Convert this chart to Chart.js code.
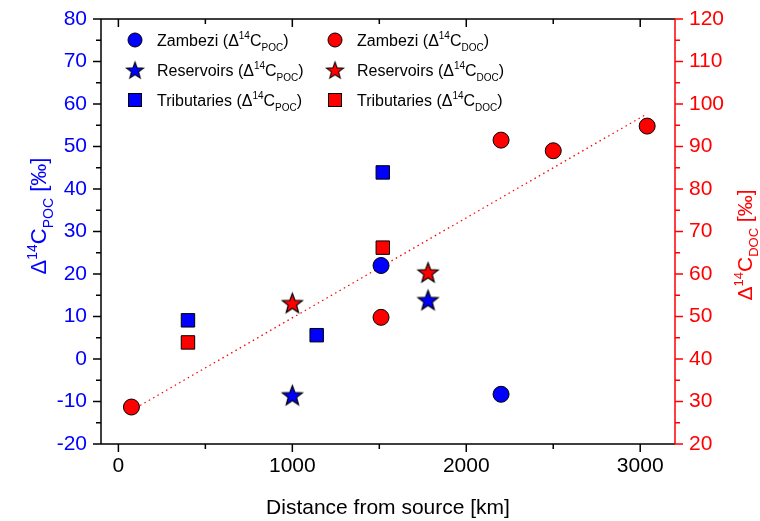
<!DOCTYPE html>
<html>
<head>
<meta charset="utf-8">
<script src="https://cdn.jsdelivr.net/npm/chart.js@4/dist/chart.umd.min.js"></script>
<style>
  html, body { margin: 0; padding: 0; background: #fff; }
  #wrap { width: 760px; height: 521px; }
</style>
</head>
<body>
<div id="wrap"><canvas id="myChart"></canvas></div>
<script>
// distances from source [km] and Δ14C values [‰]
const zambeziPocDist = [1510, 2200];
const zambeziPoc = [22.0, -8.3];
const reservoirsPocDist = [1000, 1780];
const reservoirsPoc = [-8.5, 13.9];
const tributariesPocDist = [400, 1140, 1520];
const tributariesPoc = [9.1, 5.6, 43.9];

const zambeziDocDist = [75, 1510, 2200, 2500, 3040];
const zambeziDoc = [28.7, 49.8, 91.5, 89.0, 94.8];
const reservoirsDocDist = [1000, 1780];
const reservoirsDoc = [53.2, 60.4];
const tributariesDocDist = [400, 1520];
const tributariesDoc = [43.9, 66.2];

// linear fit through the DOC values (end points)
const trendDist = [75, 3040];
const trendDoc = [27.9, 97.7];

const xTicks = [0, 1000, 2000, 3000];

const BLUE = '#0000ff';
const RED = '#ff0000';
const FONT = "'Liberation Sans', Arial, sans-serif";

const pts = (xs, ys) => xs.map((x, i) => ({ x: x, y: ys[i] }));

function starCanvas(fill, R) {
    const c = document.createElement('canvas');
    const s = Math.ceil(R * 2 + 4);
    c.width = c.height = s;
    const g = c.getContext('2d');
    const r = R * 0.42;
    g.beginPath();
    for (let i = 0; i < 10; i++) {
        const a = -Math.PI / 2 + i * Math.PI / 5;
        const rr = i % 2 ? r : R;
        g.lineTo(s / 2 + rr * Math.cos(a), s / 2 + 1 + rr * Math.sin(a));
    }
    g.closePath();
    g.fillStyle = fill;
    g.fill();
    g.strokeStyle = '#000';
    g.lineWidth = 1.2;
    g.stroke();
    return c;
}

const blueStar = starCanvas(BLUE, 10.5);
const redStar = starCanvas(RED, 10.5);

// text with super/subscripts, y = baseline
function richText(ctx, parts, x, y, size, color, align) {
    const fontFor = k => (k ? Math.round(size * 0.62) : size) + 'px ' + FONT;
    let w = 0;
    parts.forEach(([t, k]) => { ctx.font = fontFor(k); w += ctx.measureText(t).width; });
    let cx = align === 'center' ? x - w / 2 : x;
    ctx.fillStyle = color;
    ctx.textAlign = 'left';
    ctx.textBaseline = 'alphabetic';
    parts.forEach(([t, k]) => {
        ctx.font = fontFor(k);
        const dy = k === 'sup' ? -size * 0.42 : k === 'sub' ? size * 0.3 : 0;
        ctx.fillText(t, cx, y + dy);
        cx += ctx.measureText(t).width;
    });
}

const label = (name, kind) => [[name + ' (\u0394', ''], ['14', 'sup'], ['C', ''], [kind, 'sub'], [')', '']];

const frame = {
    id: 'frame',
    afterDraw(chart) {
        const ctx = chart.ctx;
        const a = chart.chartArea;
        const x = chart.scales.x, yl = chart.scales.yPoc, yr = chart.scales.yDoc;
        ctx.save();
        ctx.lineWidth = 1.5;
        ctx.strokeStyle = '#000';
        ctx.beginPath();
        ctx.moveTo(a.right, a.top); ctx.lineTo(a.left, a.top);
        ctx.lineTo(a.left, a.bottom); ctx.lineTo(a.right, a.bottom);
        for (let v = 0; v <= 3000; v += 500) {
            const px = x.getPixelForValue(v);
            const len = v % 1000 ? 5 : 8;
            ctx.moveTo(px, a.bottom); ctx.lineTo(px, a.bottom + len);
            ctx.moveTo(px, a.top); ctx.lineTo(px, a.top + len);
        }
        for (let v = -20; v <= 80; v += 5) {
            const py = yl.getPixelForValue(v);
            const len = v % 10 ? 5 : 8;
            ctx.moveTo(a.left, py); ctx.lineTo(a.left - len, py);
        }
        ctx.stroke();

        ctx.strokeStyle = RED;
        ctx.beginPath();
        ctx.moveTo(a.right, a.top); ctx.lineTo(a.right, a.bottom);
        for (let v = 20; v <= 120; v += 5) {
            const py = yr.getPixelForValue(v);
            const len = v % 10 ? 5 : 8;
            ctx.moveTo(a.right, py); ctx.lineTo(a.right + len, py);
        }
        ctx.stroke();

        // axis titles
        ctx.fillStyle = '#000';
        ctx.font = '21px ' + FONT;
        ctx.textAlign = 'center';
        ctx.textBaseline = 'alphabetic';
        ctx.fillText('Distance from source [km]', (a.left + a.right) / 2, 514);

        ctx.save();
        ctx.translate(46, 216);
        ctx.rotate(-Math.PI / 2);
        richText(ctx, [['\u0394', ''], ['14', 'sup'], ['C', ''], ['POC', 'sub'], [' [\u2030]', '']], 0, 0, 22, BLUE, 'center');
        ctx.restore();

        ctx.save();
        ctx.translate(752, 245);
        ctx.rotate(-Math.PI / 2);
        richText(ctx, [['\u0394', ''], ['14', 'sup'], ['C', ''], ['DOC', 'sub'], [' [\u2030]', '']], 0, 0, 21, RED, 'center');
        ctx.restore();

        // legend
        const rows = [40, 70, 100];
        const cols = [{ mx: 135, tx: 157, fill: BLUE, kind: 'POC' }, { mx: 335, tx: 357, fill: RED, kind: 'DOC' }];
        const names = ['Zambezi', 'Reservoirs', 'Tributaries'];
        cols.forEach(c => {
            rows.forEach((ry, i) => {
                ctx.lineWidth = 1;
                ctx.strokeStyle = '#000';
                ctx.fillStyle = c.fill;
                if (i === 0) {
                    ctx.beginPath(); ctx.arc(c.mx, ry, 7, 0, Math.PI * 2); ctx.fill(); ctx.stroke();
                } else if (i === 1) {
                    const img = c.fill === BLUE ? blueStar : redStar;
                    const s = img.width * 0.85;
                    ctx.drawImage(img, c.mx - s / 2, ry - s / 2, s, s);
                } else {
                    ctx.fillRect(c.mx - 6.5, ry - 6.5, 13, 13);
                    ctx.strokeRect(c.mx - 6.5, ry - 6.5, 13, 13);
                }
                richText(ctx, label(names[i], c.kind), c.tx, ry + 6, 16, '#000', 'left');
            });
        });
        ctx.restore();
    }
};

const dot = (color, style, radius) => ({
    backgroundColor: color,
    borderColor: '#000',
    borderWidth: 1,
    pointStyle: style,
    pointRadius: radius,
    pointHoverRadius: radius
});

// keep the plot area where the reference has it
const fixY = width => s => { s.width = width; s.paddingTop = 0; s.paddingBottom = 0; };

const myChart = new Chart('myChart', {
    type: 'scatter',
    data: {
        datasets: [
            { label: 'Zambezi POC', data: pts(zambeziPocDist, zambeziPoc), yAxisID: 'yPoc', ...dot(BLUE, 'circle', 8) },
            { label: 'Reservoirs POC', data: pts(reservoirsPocDist, reservoirsPoc), yAxisID: 'yPoc', ...dot(BLUE, blueStar, 10) },
            { label: 'Tributaries POC', data: pts(tributariesPocDist, tributariesPoc), yAxisID: 'yPoc', ...dot(BLUE, 'rect', 9.5) },
            { label: 'Zambezi DOC', data: pts(zambeziDocDist, zambeziDoc), yAxisID: 'yDoc', ...dot(RED, 'circle', 8) },
            { label: 'Reservoirs DOC', data: pts(reservoirsDocDist, reservoirsDoc), yAxisID: 'yDoc', ...dot(RED, redStar, 10) },
            { label: 'Tributaries DOC', data: pts(tributariesDocDist, tributariesDoc), yAxisID: 'yDoc', ...dot(RED, 'rect', 9.5) },
            {
                type: 'line',
                label: 'fit',
                data: pts(trendDist, trendDoc),
                yAxisID: 'yDoc',
                borderColor: RED,
                borderWidth: 1.3,
                borderDash: [1.5, 3.5],
                pointRadius: 0,
                fill: false
            }
        ]
    },
    options: {
        responsive: true,
        maintainAspectRatio: false,
        animation: false,
        events: [],
        layout: { padding: { top: 19, left: 0, right: 0, bottom: 0 } },
        scales: {
            x: {
                type: 'linear',
                min: -100,
                max: 3200,
                afterBuildTicks: s => { s.ticks = xTicks.map(v => ({ value: v })); },
                afterFit: s => { s.height = 77; s.paddingLeft = 0; s.paddingRight = 0; },
                grid: { display: false, drawTicks: false },
                border: { display: false },
                ticks: { color: '#000', font: { family: FONT, size: 21 }, padding: 10, maxRotation: 0, callback: v => String(v) }
            },
            yPoc: {
                position: 'left',
                min: -20,
                max: 80,
                afterFit: fixY(101),
                grid: { display: false, drawTicks: false },
                border: { display: false },
                ticks: { stepSize: 10, color: BLUE, font: { family: FONT, size: 21 }, padding: 14 }
            },
            yDoc: {
                position: 'right',
                min: 20,
                max: 120,
                afterFit: fixY(85),
                grid: { display: false, drawTicks: false },
                border: { display: false },
                ticks: { stepSize: 10, color: RED, font: { family: FONT, size: 21 }, padding: 14 }
            }
        },
        plugins: {
            legend: false,
            tooltip: { enabled: false }
        }
    },
    plugins: [frame]
});
</script>
</body>
</html>
